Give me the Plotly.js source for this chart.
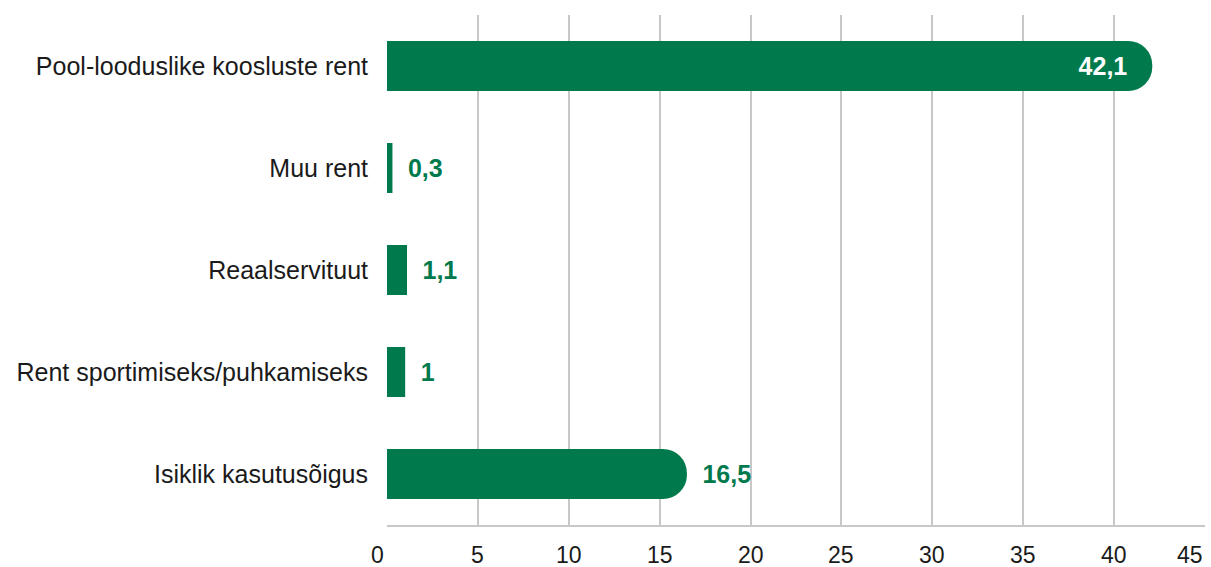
<!DOCTYPE html>
<html>
<head>
<meta charset="utf-8">
<script src="https://cdn.plot.ly/plotly-3.0.1.min.js"></script>
<style>html,body{margin:0;padding:0;background:#fff}#chart{width:1211px;height:567px}</style>
</head>
<body>
<div id="chart"></div>
<script>
const categories = ["Pool-looduslike koosluste rent", "Muu rent", "Reaalservituut", "Rent sportimiseks/puhkamiseks", "Isiklik kasutusõigus"];
const values = [42.1, 0.3, 1.1, 1, 16.5];
const xTicks = [0, 5, 10, 15, 20, 25, 30, 35, 40, 45];

const green = "#007A4C";
const fontFam = 'Liberation Sans, Arial, sans-serif';
const labels = values.map(v => String(v).replace('.', ','));

function makeTrace(filterFn, radius) {
  const idx = values.map((v, i) => i).filter(i => filterFn(values[i]));
  const pos = idx.map(i => values[i] > 30 ? 'inside' : 'outside');
  return {
    type: 'bar',
    orientation: 'h',
    y: idx.map(i => categories[i]),
    x: idx.map(i => values[i]),
    text: idx.map((i, k) => pos[k] === 'outside' ? '\u2002' + labels[i] : labels[i] + '\u2002\u2009'),
    textposition: pos,
    insidetextanchor: 'end',
    outsidetextfont: {family: fontFam, size: 25, color: green, weight: 'bold'},
    insidetextfont: {family: fontFam, size: 25, color: '#ffffff', weight: 'bold'},
    marker: {color: green, cornerradius: radius},
    width: 0.49,
    cliponaxis: false,
    hoverinfo: 'none'
  };
}

const traces = [
  makeTrace(v => v >= 5, 24),
  makeTrace(v => v < 5, 0)
];

const annotations = xTicks.map((t, i) => ({
  x: t,
  xref: 'x',
  y: 0,
  yref: 'paper',
  yanchor: 'top',
  yshift: -15,
  xanchor: i === 0 ? 'right' : (i === xTicks.length - 1 ? 'right' : 'center'),
  xshift: i === 0 ? -1 : 0,
  text: String(t),
  showarrow: false,
  font: {family: fontFam, size: 23, color: '#1a1a1a'}
}));

const layout = {
  width: 1211,
  height: 567,
  margin: {l: 387, r: 6, t: 15, b: 42},
  paper_bgcolor: '#ffffff',
  plot_bgcolor: '#ffffff',
  barmode: 'overlay',
  showlegend: false,
  font: {family: fontFam, color: '#1a1a1a'},
  annotations: annotations,
  xaxis: {
    range: [0, 45],
    tickvals: xTicks,
    showticklabels: false,
    showgrid: true,
    gridcolor: '#c8c8c8',
    gridwidth: 2,
    zeroline: false,
    showline: true,
    linecolor: '#c8c8c8',
    linewidth: 2,
    ticks: '',
    fixedrange: true
  },
  yaxis: {
    categoryorder: 'array',
    categoryarray: categories.slice().reverse(),
    showgrid: false,
    zeroline: false,
    showline: false,
    ticks: '',
    ticklabelstandoff: 18,
    tickfont: {size: 25, color: '#1a1a1a'},
    fixedrange: true
  }
};

Plotly.newPlot('chart', traces, layout, {displayModeBar: false, staticPlot: true});
</script>
</body>
</html>
